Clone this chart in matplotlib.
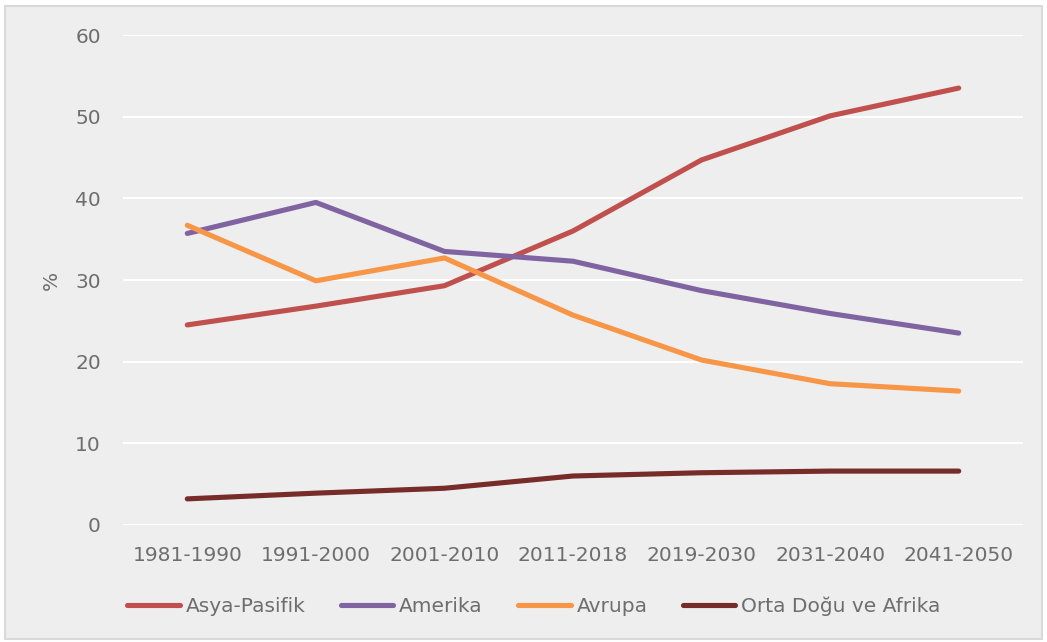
import matplotlib.pyplot as plt
from matplotlib.patches import Rectangle

periods = ['1981-1990', '1991-2000', '2001-2010', '2011-2018',
           '2019-2030', '2031-2040', '2041-2050']
asya_pasifik = [24.5, 26.8, 29.3, 36.0, 44.7, 50.1, 53.5]
amerika = [35.7, 39.5, 33.5, 32.3, 28.7, 25.9, 23.5]
avrupa = [36.7, 29.9, 32.7, 25.7, 20.2, 17.3, 16.4]
orta_dogu = [3.2, 3.9, 4.5, 6.0, 6.4, 6.6, 6.6]

series = [('Asya-Pasifik', asya_pasifik, '#C0504D'),
          ('Amerika', amerika, '#8064A2'),
          ('Avrupa', avrupa, '#F79646'),
          ('Orta Doğu ve Afrika', orta_dogu, '#772C2A')]

bg = '#EEEEEE'
txt = '#6E6E6E'
plt.rcParams['font.family'] = ['DejaVu Sans']

fig = plt.figure(figsize=(10.47, 6.42), dpi=100, facecolor='white')
fig.patches.append(Rectangle((5 / 1047, 3 / 642), 1 - 10 / 1047, 1 - 9 / 642,
                             transform=fig.transFigure, facecolor=bg,
                             edgecolor='#D9D9D9', linewidth=1.5, zorder=-10))
ax = fig.add_axes([123 / 1047, 1 - 525 / 642, 900 / 1047, 490 / 642])
ax.set_facecolor(bg)

x = list(range(len(periods)))
for name, vals, color in series:
    ax.plot(x, vals, color=color, linewidth=3.7, solid_capstyle='round',
            label=name, zorder=3)

ax.set_xlim(-0.5, len(periods) - 0.5)
ax.set_ylim(0, 60)
ax.set_yticks(range(0, 61, 10))
ax.set_xticks(x)
ax.set_xticklabels(periods)
ax.grid(axis='y', color='white', linewidth=1.5, zorder=1)
ax.set_axisbelow(True)
for s in ax.spines.values():
    s.set_visible(False)
ax.tick_params(length=0, labelsize=14.5, labelcolor=txt)
ax.tick_params(axis='x', pad=15)
ax.tick_params(axis='y', pad=16)
ax.set_ylabel('%', fontsize=14.5, color=txt, labelpad=10)

fig.legend(loc='center', bbox_to_anchor=(0.51, 1 - 606 / 642), ncol=4,
           frameon=False, fontsize=14.5, labelcolor=txt, handlelength=2.6,
           handletextpad=0.3, columnspacing=1.75)

fig.savefig('out.png', dpi=100, facecolor='white')
